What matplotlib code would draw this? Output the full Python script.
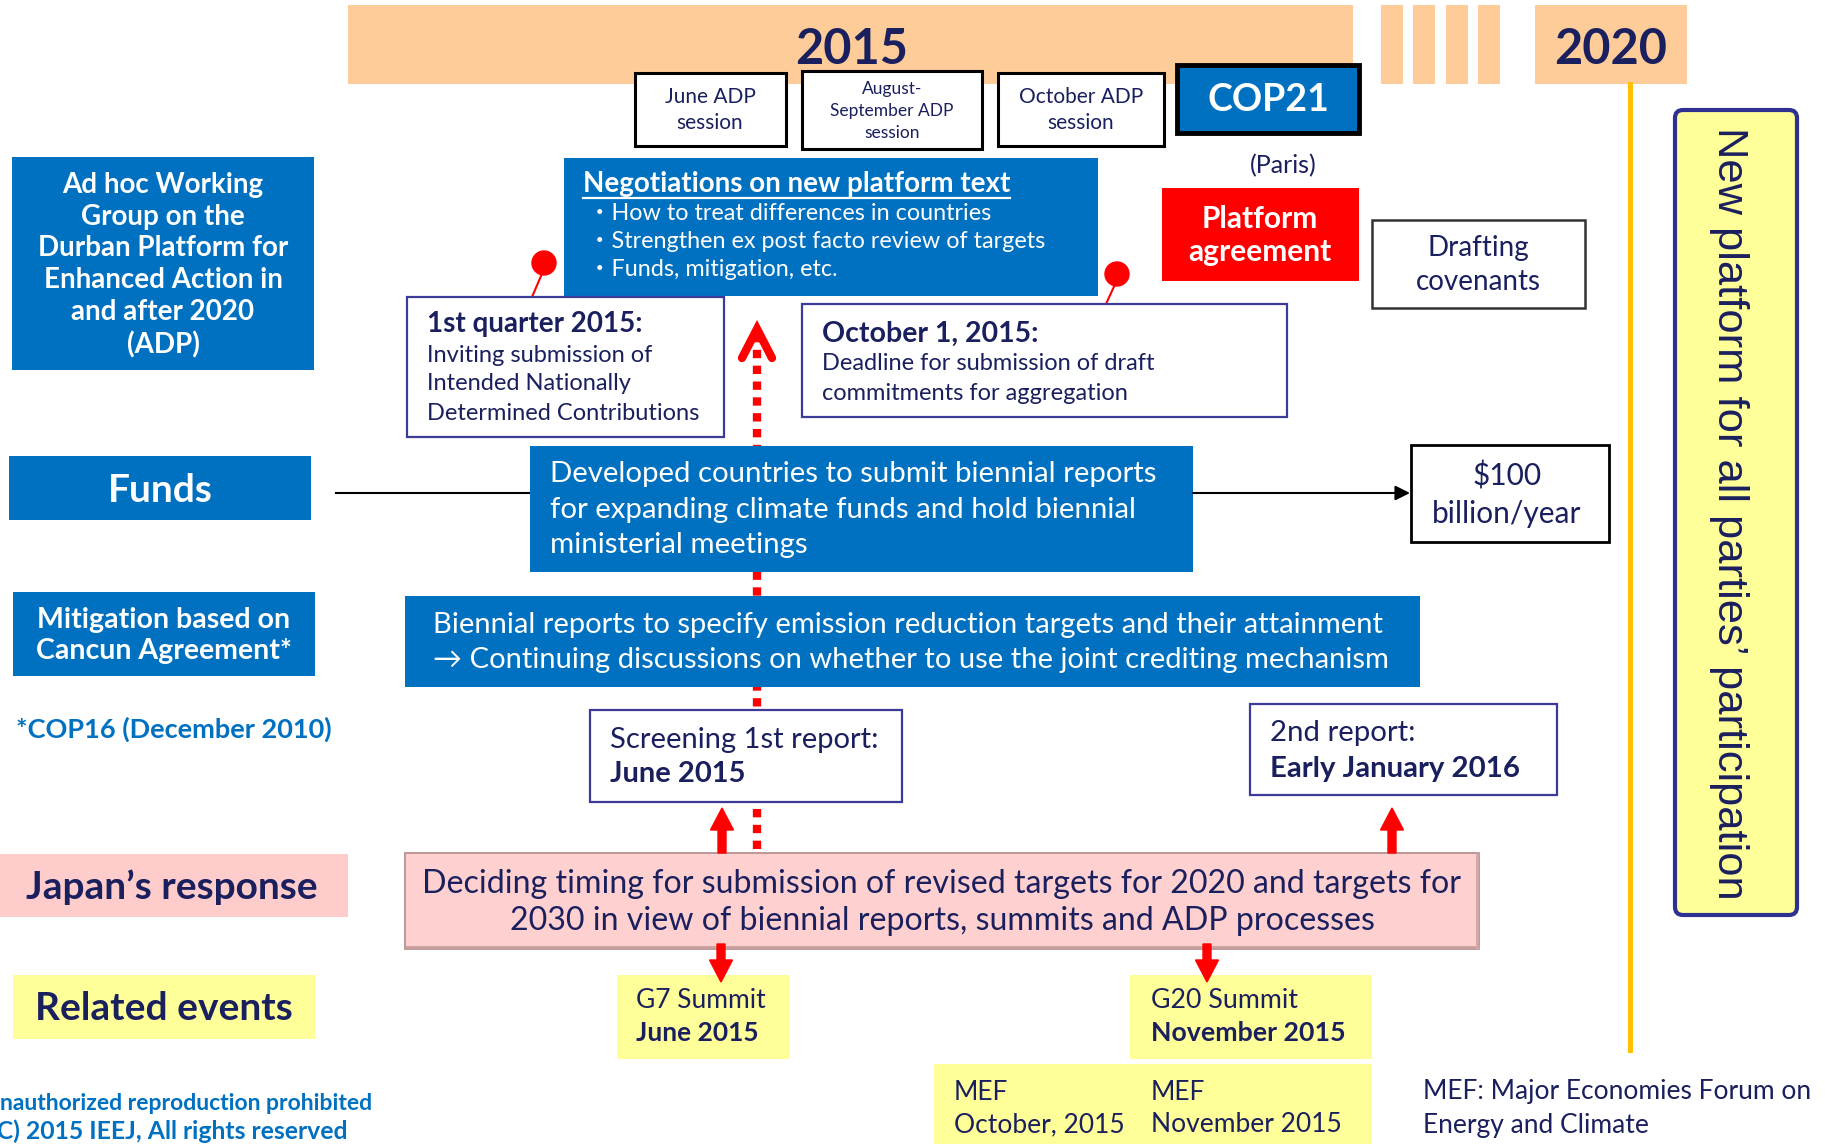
import matplotlib
matplotlib.use("Agg")
import matplotlib.pyplot as plt
from matplotlib.patches import Rectangle, Circle, FancyBboxPatch, FancyArrow

plt.rcParams['font.family'] = ['Lato', 'Noto Sans CJK JP', 'DejaVu Sans']

# --- text content of the diagram ---
years = ["2015", "2020"]
sessions = [["June ADP", "session"], ["August-", "September ADP", "session"], ["October ADP", "session"]]
row_labels = [["Ad hoc Working", "Group on the", "Durban Platform for", "Enhanced Action in", "and after 2020", "(ADP)"],
              ["Funds"], ["Mitigation based on", "Cancun Agreement*"], ["Japan’s response"], ["Related events"]]
nego_title = "Negotiations on new platform text"
nego_items = ["・How to treat differences in countries",
              "・Strengthen ex post facto review of targets",
              "・Funds, mitigation, etc."]
q1_text = ["1st quarter 2015:", "Inviting submission of", "Intended Nationally", "Determined Contributions"]
oct_text = ["October 1, 2015:", "Deadline for submission of draft", "commitments for aggregation"]
funds_text = ["Developed countries to submit biennial reports",
              "for expanding climate funds and hold biennial",
              "ministerial meetings"]
funds_goal = ["$100", "billion/year"]
mitig_text = ["Biennial reports to specify emission reduction targets and their attainment",
              "→ Continuing discussions on whether to use the joint crediting mechanism"]
reports = [["Screening 1st report:", "June 2015"], ["2nd report:", "Early January 2016"]]
japan_text = ["Deciding timing for submission of revised targets for 2020 and targets for",
              "2030 in view of biennial reports, summits and ADP processes"]
summits = [["G7 Summit", "June 2015"], ["G20 Summit", "November 2015"]]
mef = [["MEF", "October, 2015"], ["MEF", "November 2015"]]
mef_note = ["MEF: Major Economies Forum on", "Energy and Climate"]
footer = ["Unauthorized reproduction prohibited", "(C) 2015 IEEJ, All rights reserved"]

BLUE = '#0070C0'
NAVY = '#1a1f5e'
PEACH = '#FDCC99'
YELLOW = '#FFFF99'
PINK = '#FFCCCC'
BORDER = '#3d3b99'

fig = plt.figure(figsize=(18.25, 11.44), dpi=100)
ax = fig.add_axes([0, 0, 1, 1])
ax.set_xlim(0, 1825)
ax.set_ylim(1144, 0)
ax.axis('off')


def box(x, y, w, h, fc='white', ec='none', lw=0, z=2):
    ax.add_patch(Rectangle((x, y), w, h, facecolor=fc, edgecolor=ec, linewidth=lw, zorder=z))


def lines(x, ys, txts, size, color=NAVY, ha='left', bold=None, z=5):
    for i, (yy, t) in enumerate(zip(ys, txts)):
        w = 'bold' if (bold is not None and bold[i]) else 'normal'
        ax.text(x, yy, t, fontsize=size, color=color, ha=ha, va='center', fontweight=w, zorder=z)


# timeline band
box(348, 5, 1005, 79, fc=PEACH, z=1)
for sx in [1381, 1413, 1446, 1478]:
    box(sx, 5, 22, 79, fc=PEACH, z=1)
box(1535, 5, 152, 79, fc=PEACH, z=1)
ax.text(852, 49, years[0], fontsize=35, fontweight='bold', color=NAVY, ha='center', va='center')
ax.text(1611, 49, years[1], fontsize=35, fontweight='bold', color=NAVY, ha='center', va='center')
ax.plot([1630, 1630], [84, 1050], color='#FFC000', lw=3.6, zorder=1)

# sessions
box(635, 73, 151, 73, ec='black', lw=2.2, z=3)
lines(710, [97, 123], sessions[0], 15, ha='center')
box(802, 71, 180, 78, ec='black', lw=2.2, z=3)
lines(892, [89, 111, 133], sessions[1], 12.5, ha='center')
box(998, 73, 166, 73, ec='black', lw=2.2, z=3)
lines(1081, [97, 123], sessions[2], 15, ha='center')
box(1177, 65, 182, 68, fc=BLUE, ec='black', lw=3.5, z=3)
ax.text(1268, 100, "COP21", fontsize=27, fontweight='bold', color='white', ha='center', va='center', zorder=5)
ax.text(1283, 166, "(Paris)", fontsize=18, color=NAVY, ha='center', va='center')
box(1162, 188, 197, 93, fc='#FF0000', z=3)
lines(1260, [219, 252], ["Platform", "agreement"], 21.5, color='white', ha='center', bold=[1, 1])
box(1372, 220, 213, 88, ec='#333333', lw=1.8, z=3)
lines(1478, [248, 282], ["Drafting", "covenants"], 20, ha='center')

# row labels (left)
box(12, 157, 302, 213, fc=BLUE)
lines(163, [185, 217, 248, 280, 312, 345], row_labels[0], 20, color='white', ha='center', bold=[1] * 6)
box(9, 456, 302, 64, fc=BLUE)
lines(160, [490], row_labels[1], 28, color='white', ha='center', bold=[1])
box(13, 592, 302, 84, fc=BLUE)
lines(164, [620, 651], row_labels[2], 20.5, color='white', ha='center', bold=[1, 1])
ax.text(16, 729, "*COP16 (December 2010)", fontsize=19.5, fontweight='bold', color=BLUE, va='center')
box(0, 854, 348, 63, fc=PINK)
lines(172, [887], row_labels[3], 28, ha='center', bold=[1])
box(13, 975, 302, 64, fc=YELLOW)
lines(164, [1008], row_labels[4], 28, ha='center', bold=[1])

# negotiations
box(564, 158, 534, 138, fc=BLUE)
t_nego = ax.text(583, 184, nego_title, fontsize=20, fontweight='bold', color='white', va='center', zorder=5)
lines(588, [214, 242, 270], nego_items, 16.8, color='white')

# pins
for (cx, cy, lx, ly) in [(544, 263, 532, 297), (1117, 274, 1106, 304)]:
    ax.plot([cx, lx], [cy + 6, ly], color='#FF0000', lw=1.5, zorder=3)
    ax.add_patch(Circle((cx, cy), 12, color='#FF0000', zorder=4))

box(407, 297, 317, 140, ec=BORDER, lw=1.6, z=3)
lines(427, [324], q1_text[:1], 20, bold=[1])
lines(427, [355, 384, 413], q1_text[1:], 17)
box(802, 304, 485, 113, ec=BORDER, lw=1.6, z=3)
lines(822, [334], oct_text[:1], 20.5, bold=[1])
lines(822, [364, 393], oct_text[1:], 17)

# red dashed arrow up
ax.plot([757, 757], [334, 853], color='#FF0000', lw=6, linestyle=(0, (1.0, 0.9)), zorder=1)
ax.plot([742, 757, 772], [358, 329, 358], color='#FF0000', lw=6, solid_capstyle='round',
        solid_joinstyle='miter', zorder=3)

# funds row
ax.plot([336, 530], [493, 493], color='black', lw=1.5, zorder=1)
box(530, 446, 663, 126, fc=BLUE)
lines(550, [474, 510, 545], funds_text, 21.2, color='white')
ax.annotate('', xy=(1410, 493), xytext=(1193, 493),
            arrowprops=dict(arrowstyle='-|>', color='black', lw=1.5, mutation_scale=22,
                            shrinkA=0, shrinkB=0), zorder=2)
box(1411, 445, 198, 97, ec='black', lw=2, z=3)
lines(1507, [476, 514], funds_goal, 21.5, ha='center')

# mitigation row
box(405, 596, 1015, 91, fc=BLUE)
lines(433, [625, 660], mitig_text, 21.0, color='white')
box(590, 710, 312, 92, ec=BORDER, lw=1.6, z=3)
lines(610, [740, 774], reports[0], 21, bold=[0, 1])
box(1250, 704, 307, 91, ec=BORDER, lw=1.6, z=3)
lines(1270, [733, 769], reports[1], 21.2, bold=[0, 1])

# Japan's response
box(405, 853, 1074, 96, fc='#FFD0D0', ec='#B89090', lw=1.3, z=2)
ax.plot([406, 1478], [947, 947], color='#C8A0A0', lw=2, zorder=2)
ax.plot([1477, 1477], [854, 948], color='#D0A8A8', lw=2, zorder=2)
lines(942, [884, 921], japan_text, 23.1, ha='center')
for ax_x in [722, 1392]:
    ax.add_patch(FancyArrow(ax_x, 853, 0, -45, width=8, head_width=23, head_length=22,
                            length_includes_head=True, color='#FF0000', zorder=4))
for ax_x in [721, 1207]:
    ax.add_patch(FancyArrow(ax_x, 944, 0, 38, width=8, head_width=23, head_length=22,
                            length_includes_head=True, color='#FF0000', zorder=4))

# related events
box(617, 975, 172, 84, fc=YELLOW)
lines(636, [1001, 1033], summits[0], 19, bold=[0, 1])
box(1130, 975, 242, 84, fc=YELLOW)
lines(1151, [1001, 1033], summits[1], 19.3, bold=[0, 1])
box(934, 1064, 438, 82, fc=YELLOW)
lines(954, [1092, 1125], mef[0], 19)
lines(1151, [1092, 1125], mef[1], 19)
lines(1423, [1092, 1125], mef_note, 19)

# new platform
ax.add_patch(FancyBboxPatch((1675, 110), 122, 805, boxstyle='round,pad=0,rounding_size=8',
                            facecolor=YELLOW, edgecolor='#2E3092', linewidth=3, zorder=2))
ax.text(1729, 513, "New platform for all parties’ participation", rotation=-90, fontsize=31.3,
        family=['Liberation Sans', 'DejaVu Sans'], color=NAVY, ha='center', va='center', zorder=5)

# footer (cut at the left edge, as in the original)
ax.text(-17, 1104, footer[0], fontsize=16.5, fontweight='bold', color=BLUE, va='center')
ax.text(-10, 1131, footer[1], fontsize=17.8, fontweight='bold', color=BLUE, va='center')

# underline for the negotiations title
fig.canvas.draw()
bb = t_nego.get_window_extent().transformed(ax.transData.inverted())
ax.plot([bb.x0, bb.x1], [198, 198], color='white', lw=1.6, zorder=5)

fig.savefig('out.png', dpi=100)
